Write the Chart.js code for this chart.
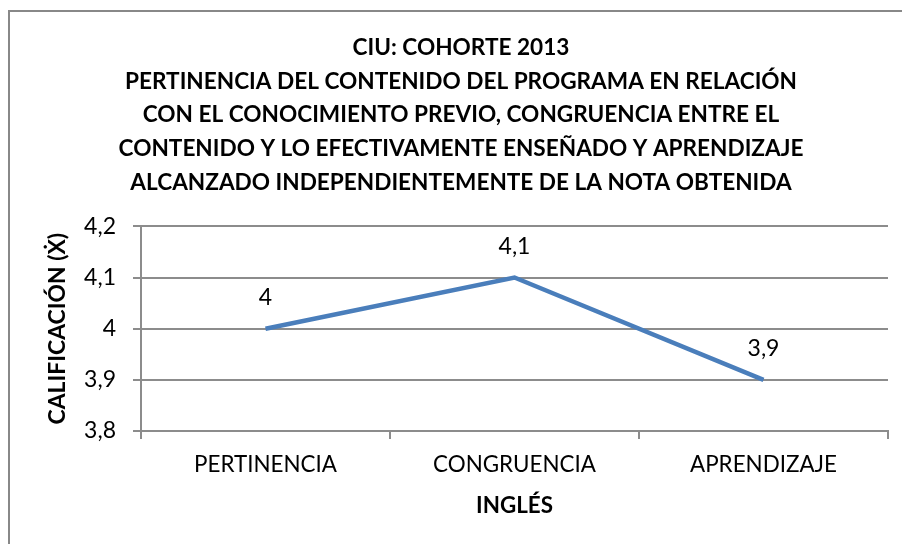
<!DOCTYPE html>
<html>
<head>
<meta charset="utf-8">
<script src="https://cdn.jsdelivr.net/npm/chart.js@4/dist/chart.umd.min.js"></script>
<style>
  html, body { margin: 0; padding: 0; background: #fff; overflow: hidden; }
  #wrap { position: relative; width: 922px; height: 544px; }
</style>
</head>
<body>
<div id="wrap"><canvas id="grafico"></canvas></div>
<script>
// ====== Datos ======
const categorias = ['PERTINENCIA', 'CONGRUENCIA', 'APRENDIZAJE'];
const calificaciones = [4, 4.1, 3.9];
const ticksY = [3.8, 3.9, 4, 4.1, 4.2];
const titulo = [
  'CIU: COHORTE 2013',
  'PERTINENCIA DEL CONTENIDO DEL PROGRAMA EN RELACIÓN',
  'CON EL CONOCIMIENTO PREVIO, CONGRUENCIA ENTRE EL',
  'CONTENIDO Y LO EFECTIVAMENTE ENSEÑADO Y APRENDIZAJE',
  'ALCANZADO INDEPENDIENTEMENTE DE LA NOTA OBTENIDA'
];

const FUENTE = 'Lato, "Open Sans", sans-serif';
const GRIS = '#8c8c8c';

// número con coma decimal
const conComa = v => Number(v.toFixed(1)).toString().replace('.', ',');

// marco del gráfico
const marco = {
  id: 'marco',
  beforeDraw(chart) {
    const ctx = chart.ctx;
    ctx.save();
    ctx.strokeStyle = '#888';
    ctx.lineWidth = 2;
    ctx.strokeRect(9, 11, 930, 560);
    ctx.restore();
  }
};

// etiquetas de valor encima de cada punto
const etiquetas = {
  id: 'etiquetas',
  afterDatasetsDraw(chart) {
    const ctx = chart.ctx;
    const meta = chart.getDatasetMeta(0);
    ctx.save();
    ctx.font = '23px ' + FUENTE;
    ctx.fillStyle = '#000';
    ctx.textAlign = 'center';
    ctx.textBaseline = 'middle';
    meta.data.forEach((pt, i) => {
      ctx.fillText(conComa(calificaciones[i]), pt.x, pt.y - 31);
    });
    ctx.restore();
  }
};

new Chart(document.getElementById('grafico'), {
  type: 'line',
  data: {
    labels: categorias,
    datasets: [{
      data: calificaciones,
      borderColor: '#4a7ebb',
      borderWidth: 4.5,
      pointRadius: 0,
      tension: 0,
      fill: false
    }]
  },
  options: {
    responsive: true,
    maintainAspectRatio: false,
    animation: false,
    layout: { padding: { left: 34, right: 34, top: 0, bottom: 0 } },
    plugins: {
      legend: { display: false },
      tooltip: { enabled: false },
      title: {
        display: true,
        text: titulo,
        color: '#000',
        font: { family: FUENTE, size: 22.6, weight: 'bold', lineHeight: 1.49 },
        padding: { top: 31, bottom: 27 }
      }
    },
    scales: {
      x: {
        offset: true,
        afterFit(scale) { scale.height = 113; },
        grid: { display: true, drawOnChartArea: false, drawTicks: true, tickLength: 8, color: GRIS, lineWidth: 2, offset: true },
        border: { display: true, color: GRIS, width: 2 },
        ticks: { color: '#000', padding: 12.6, font: { family: FUENTE, size: 22.4 }, maxRotation: 0 },
        title: {
          display: true,
          text: 'INGLÉS',
          color: '#000',
          font: { family: FUENTE, size: 22.4, weight: 'bold' },
          padding: 24.6
        }
      },
      y: {
        min: 3.8,
        max: 4.2,
        afterBuildTicks(scale) { scale.ticks = ticksY.map(v => ({ value: v })); },
        afterFit(scale) { scale.width = 107; },
        grid: { color: GRIS, lineWidth: 2, tickLength: 8 },
        border: { display: true, color: GRIS, width: 2 },
        ticks: { color: '#000', padding: 17, font: { family: FUENTE, size: 23 }, callback: v => conComa(v) },
        title: {
          display: true,
          text: 'CALIFICACIÓN (Ẋ)',
          color: '#000',
          font: { family: FUENTE, size: 22.9, weight: 'bold' },
          padding: { top: 10, bottom: 0 }
        }
      }
    }
  },
  plugins: [marco, etiquetas]
});
</script>
</body>
</html>
